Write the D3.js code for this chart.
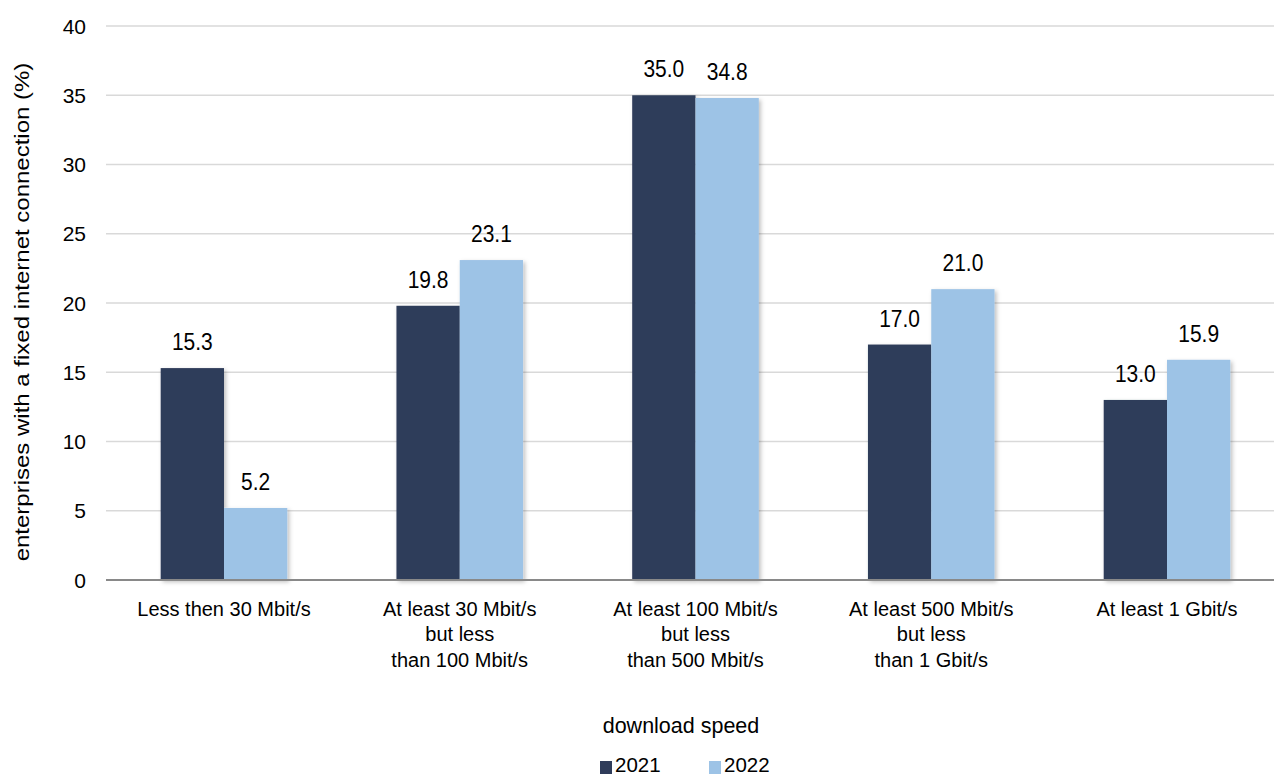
<!DOCTYPE html>
<html>
<head>
<meta charset="utf-8">
<script src="https://cdn.jsdelivr.net/npm/d3@7"></script>
<style>
  html, body { margin: 0; padding: 0; background: #fff; }
  svg { display: block; font-family: "Liberation Sans", Arial, sans-serif; }
</style>
</head>
<body>
<svg id="chart" width="1274" height="776"></svg>
<script>
const categories = [
  ["Less then 30 Mbit/s"],
  ["At least 30 Mbit/s", "but less", "than 100 Mbit/s"],
  ["At least 100 Mbit/s", "but less", "than 500 Mbit/s"],
  ["At least 500 Mbit/s", "but less", "than 1 Gbit/s"],
  ["At least 1 Gbit/s"]
];
const seriesNames = ["2021", "2022"];
const values2021 = [15.3, 19.8, 35.0, 17.0, 13.0];
const values2022 = [5.2, 23.1, 34.8, 21.0, 15.9];
const yTicks = [0, 5, 10, 15, 20, 25, 30, 35, 40];
const yTitle = "enterprises with a fixed internet connection (%)";
const xTitle = "download speed";
const colors = ["#2F3C5A", "#9DC3E6"];

(function () {
const svg = d3.select("#chart");
const plotLeft = 106, plotRight = 1285, plotTop = 26, plotBottom = 580;

const defs = svg.append("defs");
const f = defs.append("filter").attr("id", "shadow").attr("x", "-20%").attr("y", "-20%").attr("width", "140%").attr("height", "140%");
f.append("feDropShadow").attr("dx", 2).attr("dy", 2).attr("stdDeviation", 2).attr("flood-color", "#000").attr("flood-opacity", 0.25);

const x0 = d3.scaleBand().domain(d3.range(categories.length)).range([plotLeft, plotRight])
  .paddingInner(0.463).paddingOuter(0.232);
const x1 = d3.scaleBand().domain(seriesNames).range([0, x0.bandwidth()]);
const y = d3.scaleLinear().domain([0, 40]).range([plotBottom, plotTop]);

// gridlines
svg.append("g").selectAll("line").data(yTicks.filter(d => d > 0)).join("line")
  .attr("x1", plotLeft).attr("x2", 1274)
  .attr("y1", d => y(d)).attr("y2", d => y(d))
  .attr("stroke", "#D9D9D9").attr("stroke-width", 1.5);

// y tick labels
svg.append("g").selectAll("text").data(yTicks).join("text")
  .attr("x", 86).attr("y", d => y(d)).attr("dy", "0.36em")
  .attr("text-anchor", "end").attr("font-size", 21).attr("fill", "#000")
  .text(d => d);

// bars
const series = [values2021, values2022];
const barsG = svg.append("g").attr("filter", "url(#shadow)");
seriesNames.forEach((s, si) => {
  barsG.append("g").selectAll("rect").data(series[si]).join("rect")
    .attr("x", (d, i) => x0(i) + x1(s))
    .attr("y", d => y(d))
    .attr("width", x1.bandwidth())
    .attr("height", d => y(0) - y(d))
    .attr("fill", colors[si]);
});

// baseline
svg.append("line").attr("x1", plotLeft).attr("x2", 1274).attr("y1", y(0)).attr("y2", y(0))
  .attr("stroke", "#898989").attr("stroke-width", 2);

// value labels
seriesNames.forEach((s, si) => {
  svg.append("g").selectAll("text").data(series[si]).join("text")
    .attr("transform", (d, i) => `translate(${x0(i) + x1(s) + x1.bandwidth() / 2},${y(d) - 18}) scale(1,1.15)`)
    .attr("text-anchor", "middle").attr("font-size", 21).attr("fill", "#000")
    .text(d => d.toFixed(1));
});

// x category labels
const xl = svg.append("g").selectAll("text").data(categories).join("text")
  .attr("x", (d, i) => x0(i) + x0.bandwidth() / 2)
  .attr("y", 615.5).attr("text-anchor", "middle").attr("font-size", 20).attr("fill", "#000");
xl.each(function(lines, i) {
  d3.select(this).selectAll("tspan").data(lines).join("tspan")
    .attr("x", x0(i) + x0.bandwidth() / 2)
    .attr("dy", (d, j) => j === 0 ? 0 : 25.5)
    .text(d => d);
});

// y title
svg.append("text")
  .attr("transform", "translate(29,312) rotate(-90) scale(1.2,1)")
  .attr("text-anchor", "middle").attr("font-size", 20).attr("fill", "#000")
  .text(yTitle);

// x title
svg.append("text").attr("x", 681).attr("y", 733).attr("text-anchor", "middle")
  .attr("font-size", 21.5).attr("fill", "#000").text(xTitle);

// legend
const legendX = [600, 709];
seriesNames.forEach((s, si) => {
  svg.append("rect").attr("x", legendX[si]).attr("y", 761).attr("width", 12).attr("height", 13).attr("fill", colors[si]);
  svg.append("text").attr("x", legendX[si] + 15).attr("y", 772)
    .attr("font-size", 20.5).attr("fill", "#000").text(s);
});
})();
</script>
</body>
</html>
